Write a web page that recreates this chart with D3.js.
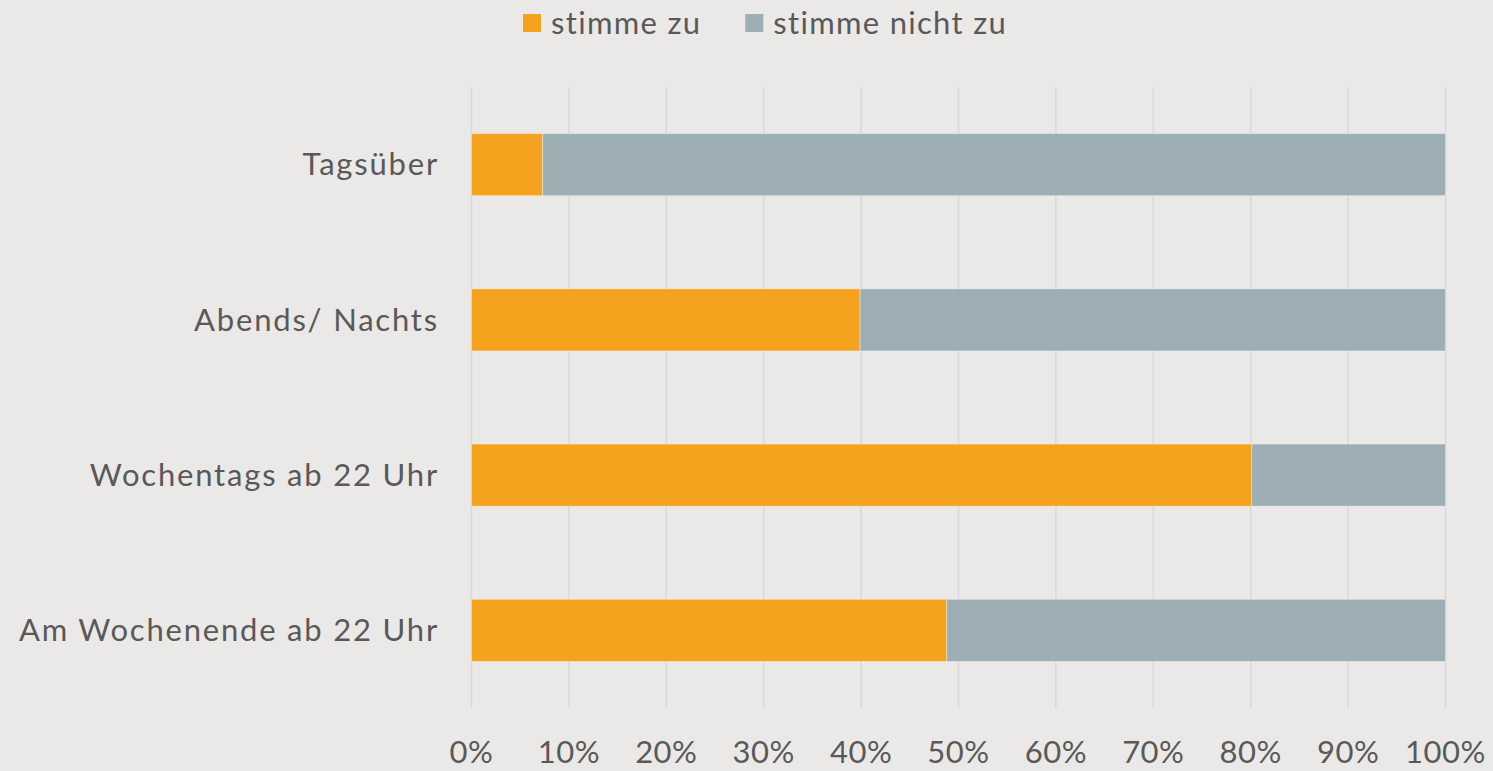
<!DOCTYPE html>
<meta charset="utf-8">
<script src="https://d3js.org/d3.v7.min.js"></script>
<style>
  body { margin: 0; background: #ebe9e7; font-family: Lato, "Open Sans", sans-serif; }
  .axis text, .legend text { fill: #595959; }
</style>
<body></body>
<script>

var categories = ["Tagsüber", "Abends/ Nachts", "Wochentags ab 22 Uhr", "Am Wochenende ab 22 Uhr"];
var seriesNames = ["stimme zu", "stimme nicht zu"];
var zustimmung = [7.3, 39.9, 80.1, 48.8];
var ablehnung = [92.7, 60.1, 19.9, 51.2];
var tickValues = [0, 10, 20, 30, 40, 50, 60, 70, 80, 90, 100];

var width = 1493, height = 771;
var plot = {left: 471.5, right: 1445.5, top: 87, bottom: 708};

var svg = d3.select("body").append("svg")
    .attr("width", width)
    .attr("height", height);

var x = d3.scaleLinear().domain([0, 100]).range([plot.left, plot.right]);
var y = d3.scaleBand()
    .domain(categories)
    .range([plot.top, plot.bottom])
    .paddingInner(0.6)
    .paddingOuter(0.3);
var color = d3.scaleOrdinal().domain(seriesNames).range(["#f5a31f", "#9dafb4"]);

// gridlines
svg.append("g")
    .selectAll("line")
    .data(tickValues)
    .enter().append("line")
      .attr("x1", function(d) { return x(d); })
      .attr("x2", function(d) { return x(d); })
      .attr("y1", plot.top)
      .attr("y2", plot.bottom)
      .attr("stroke", "#d9d9d9")
      .attr("stroke-width", 1.5);

// stacked bars
var rows = categories.map(function(c, i) {
  return {cat: c, "stimme zu": zustimmung[i], "stimme nicht zu": ablehnung[i]};
});
var stack = d3.stack().keys(seriesNames)(rows);

svg.append("g")
    .selectAll("g")
    .data(stack)
    .enter().append("g")
      .attr("fill", function(d) { return color(d.key); })
    .selectAll("rect")
    .data(function(d) { return d; })
    .enter().append("rect")
      .attr("x", function(d) { return x(d[0]); })
      .attr("width", function(d) { return x(d[1]) - x(d[0]); })
      .attr("y", function(d) { return y(d.data.cat); })
      .attr("height", y.bandwidth())
      .attr("stroke", "#ffffff")
      .attr("stroke-opacity", 0.35)
      .attr("stroke-width", 1);

// category labels
svg.append("g")
    .attr("class", "axis")
    .selectAll("text")
    .data(categories)
    .enter().append("text")
      .attr("x", 439)
      .attr("y", function(d) { return y(d) + y.bandwidth() / 2; })
      .attr("dy", "0.35em")
      .attr("text-anchor", "end")
      .attr("font-size", 31)
      .attr("letter-spacing", "1.8px")
      .text(function(d) { return d; });

// x tick labels
svg.append("g")
    .attr("class", "axis")
    .selectAll("text")
    .data(tickValues)
    .enter().append("text")
      .attr("x", function(d) { return x(d); })
      .attr("y", 763)
      .attr("text-anchor", "middle")
      .attr("font-size", 31)
      .attr("letter-spacing", "0.5px")
      .text(function(d) { return d + "%"; });

// legend
var legend = svg.append("g").attr("class", "legend");
var lx = 523;
seriesNames.forEach(function(name) {
  legend.append("rect")
      .attr("x", lx)
      .attr("y", 14)
      .attr("width", 18)
      .attr("height", 18)
      .attr("fill", color(name));
  var t = legend.append("text")
      .attr("x", lx + 28)
      .attr("y", 34)
      .attr("font-size", 31)
      .attr("letter-spacing", "1.3px")
      .text(name);
  lx += 28 + t.node().getComputedTextLength() + 44;
});

</script>
